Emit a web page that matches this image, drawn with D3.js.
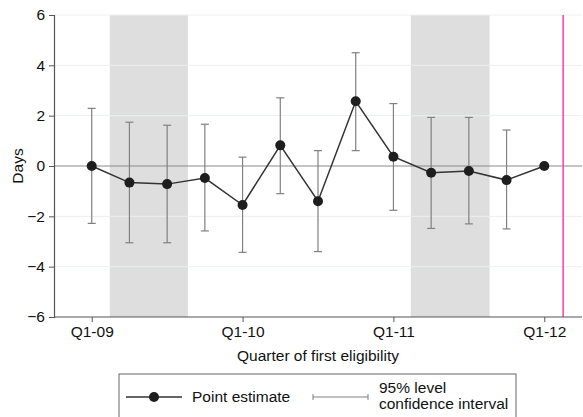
<!DOCTYPE html>
<html>
<head>
<meta charset="utf-8">
<script src="https://cdn.jsdelivr.net/npm/d3@7"></script>
<style>
  body { margin: 0; background: #fff; }
  text { font-family: "Liberation Sans", Arial, sans-serif; }
</style>
</head>
<body>
<script>
// chart data
var quarters = [0, 1, 2, 3, 4, 5, 6, 7, 8, 9, 10, 11, 12];
var estimates = [0, -0.66, -0.72, -0.48, -1.55, 0.82, -1.40, 2.57, 0.37, -0.27, -0.20, -0.56, 0];
var ciLow = [-2.28, -3.05, -3.05, -2.58, -3.43, -1.10, -3.40, 0.61, -1.76, -2.48, -2.30, -2.50, null];
var ciHigh = [2.29, 1.74, 1.62, 1.66, 0.35, 2.71, 0.61, 4.50, 2.48, 1.93, 1.93, 1.43, null];
var tickQuarters = [0, 4, 8, 12];
var tickLabels = ["Q1-09", "Q1-10", "Q1-11", "Q1-12"];
var yTicks = [-6, -4, -2, 0, 2, 4, 6];
var bandStart = [0.48, 8.46];
var bandEnd = [2.55, 10.55];
var cutoff = 12.5;

var width = 583;
var height = 417;
var fontSize = 15.5;

var svg = d3.select("body").append("svg")
    .attr("width", width)
    .attr("height", height);

var plotLeft = 54, plotRight = 582, plotTop = 15, plotBottom = 317;

var x = d3.scaleLinear().domain([-1, 13]).range([plotLeft, plotRight]);
var y = d3.scaleLinear().domain([-6, 6]).range([plotBottom, plotTop]);

// shaded bands
for (var b = 0; b < bandStart.length; b++) {
    svg.append("rect")
        .attr("x", x(bandStart[b]))
        .attr("y", plotTop)
        .attr("width", x(bandEnd[b]) - x(bandStart[b]))
        .attr("height", plotBottom - plotTop)
        .attr("fill", "#dedede");
}

// grid lines
yTicks.forEach(function(t) {
    if (t == 0 || t == -6) return;
    svg.append("line")
        .attr("x1", plotLeft).attr("x2", plotRight)
        .attr("y1", y(t)).attr("y2", y(t))
        .attr("stroke", "#eaf0ef")
        .attr("stroke-width", 1);
});

// zero line
svg.append("line")
    .attr("x1", plotLeft).attr("x2", plotRight)
    .attr("y1", y(0)).attr("y2", y(0))
    .attr("stroke", "#8a8a8a")
    .attr("stroke-width", 1);

// cutoff line
svg.append("line")
    .attr("x1", x(cutoff)).attr("x2", x(cutoff))
    .attr("y1", plotTop).attr("y2", plotBottom)
    .attr("stroke", "#ff3ca8")
    .attr("stroke-width", 1.5);

// axes
var yAxis = d3.axisLeft(y).tickValues(yTicks).tickSize(5).tickPadding(4);
var gy = svg.append("g").attr("transform", "translate(" + plotLeft + ",0)").call(yAxis);
gy.select(".domain").attr("stroke", "#555").attr("stroke-width", 1.2);
gy.selectAll(".tick line").attr("stroke", "#555");
gy.selectAll("text").attr("font-size", fontSize).attr("fill", "#111")
    .attr("font-family", "Liberation Sans, Arial, sans-serif");

var xAxis = d3.axisBottom(x).tickValues(tickQuarters).tickSize(5).tickPadding(4)
    .tickFormat(function(d, i) { return tickLabels[i]; });
var gx = svg.append("g").attr("transform", "translate(0," + plotBottom + ")").call(xAxis);
gx.select(".domain").attr("stroke", "#555").attr("stroke-width", 1.2)
    .attr("d", "M" + plotLeft + ",0H" + plotRight);
gx.selectAll(".tick line").attr("stroke", "#555");
gx.selectAll("text").attr("font-size", fontSize).attr("fill", "#111")
    .attr("font-family", "Liberation Sans, Arial, sans-serif");

// axis titles
svg.append("text")
    .attr("x", (plotLeft + plotRight) / 2)
    .attr("y", 361)
    .attr("text-anchor", "middle")
    .attr("font-size", fontSize)
    .attr("fill", "#111")
    .text("Quarter of first eligibility");

svg.append("text")
    .attr("transform", "translate(23," + y(0) + ") rotate(-90)")
    .attr("text-anchor", "middle")
    .attr("font-size", fontSize)
    .attr("fill", "#111")
    .text("Days");

// confidence intervals
quarters.forEach(function(q, i) {
    if (ciLow[i] == null) return;
    var cx = x(q);
    svg.append("line")
        .attr("x1", cx).attr("x2", cx)
        .attr("y1", y(ciLow[i])).attr("y2", y(ciHigh[i]))
        .attr("stroke", "#808080").attr("stroke-width", 1.2);
    [ciLow[i], ciHigh[i]].forEach(function(v) {
        svg.append("line")
            .attr("x1", cx - 4).attr("x2", cx + 4)
            .attr("y1", y(v)).attr("y2", y(v))
            .attr("stroke", "#808080").attr("stroke-width", 1.2);
    });
});

// point estimate line
var line = d3.line()
    .x(function(d, i) { return x(quarters[i]); })
    .y(function(d) { return y(d); });

svg.append("path")
    .datum(estimates)
    .attr("d", line)
    .attr("fill", "none")
    .attr("stroke", "#333")
    .attr("stroke-width", 1.5);

svg.selectAll(".dot")
    .data(estimates)
    .enter().append("circle")
    .attr("cx", function(d, i) { return x(quarters[i]); })
    .attr("cy", function(d) { return y(d); })
    .attr("r", 5)
    .attr("fill", "#1e1e1e");

// legend
svg.append("rect")
    .attr("x", 119).attr("y", 374)
    .attr("width", 397).attr("height", 60)
    .attr("fill", "#fff")
    .attr("stroke", "#666")
    .attr("stroke-width", 1);

svg.append("line")
    .attr("x1", 126).attr("x2", 182)
    .attr("y1", 397).attr("y2", 397)
    .attr("stroke", "#333").attr("stroke-width", 1.5);
svg.append("circle")
    .attr("cx", 154).attr("cy", 397).attr("r", 5)
    .attr("fill", "#1e1e1e");
svg.append("text")
    .attr("x", 192).attr("y", 402)
    .attr("font-size", fontSize).attr("fill", "#111")
    .text("Point estimate");

svg.append("line")
    .attr("x1", 313).attr("x2", 368)
    .attr("y1", 397).attr("y2", 397)
    .attr("stroke", "#808080").attr("stroke-width", 1);
[313, 368].forEach(function(px) {
    svg.append("line")
        .attr("x1", px).attr("x2", px)
        .attr("y1", 394).attr("y2", 400)
        .attr("stroke", "#808080").attr("stroke-width", 1);
});
svg.append("text")
    .attr("x", 379).attr("y", 393)
    .attr("font-size", fontSize).attr("fill", "#111")
    .text("95% level");
svg.append("text")
    .attr("x", 379).attr("y", 409)
    .attr("font-size", fontSize).attr("fill", "#111")
    .text("confidence interval");
</script>
</body>
</html>
